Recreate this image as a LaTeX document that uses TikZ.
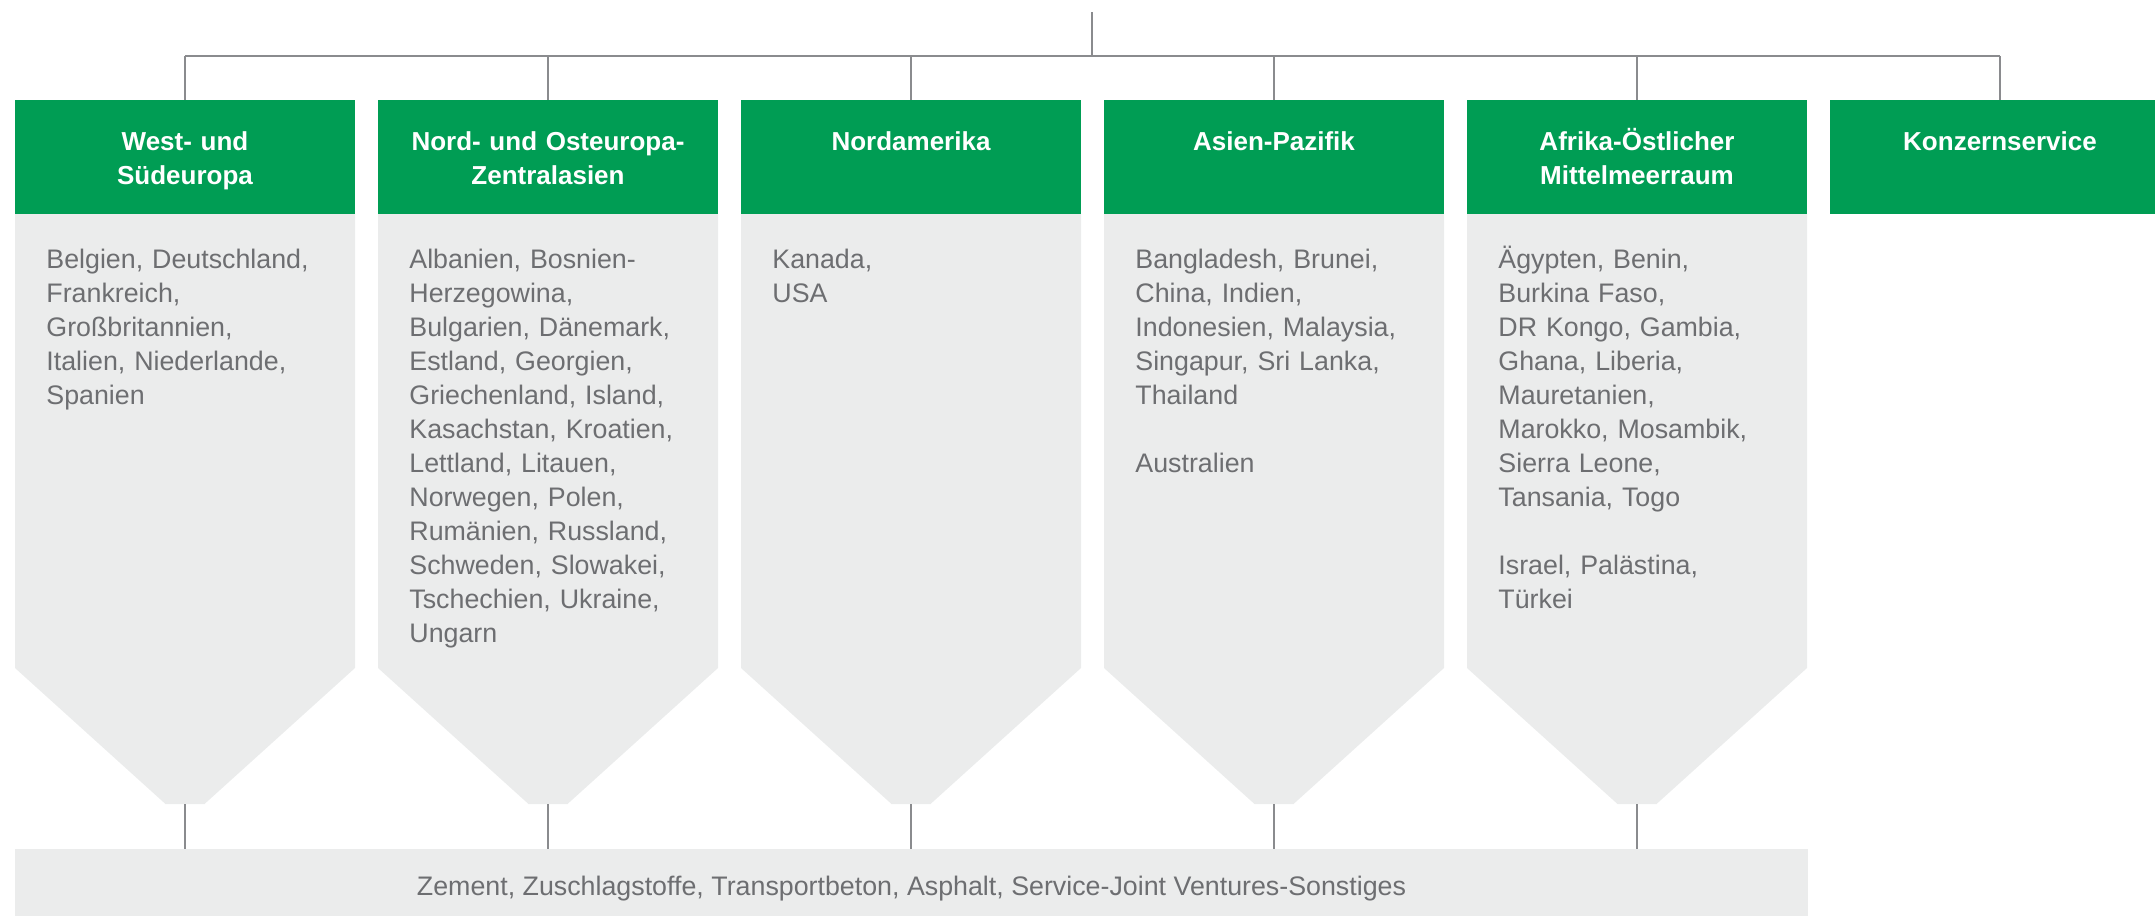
\documentclass[tikz,border=0pt]{standalone}
\usepackage{fontspec}
\setmainfont{Liberation Sans}
\usepackage{xcolor}
\usepackage{tikz}
\usetikzlibrary{positioning}
\definecolor{hcgreen}{RGB}{0,157,84}
\definecolor{hcgrey}{RGB}{235,236,236}
\definecolor{hctext}{RGB}{109,110,113}
\definecolor{hcline}{RGB}{138,139,142}

\begin{document}
\begin{tikzpicture}[
    x=0.5pt, y=-0.5pt,
    node distance=11.5pt,
    region/.style={fill=hcgreen, text=white, font=\fontsize{13pt}{17pt}\selectfont\bfseries,
        minimum width=170pt, text width=170pt, align=center, inner sep=0pt, outer sep=0pt,
        text height=25pt, text depth=32pt},
    countries/.style={text=hctext, font=\fontsize{13.4pt}{17pt}\selectfont,
        text width=150pt, align=left, inner sep=0pt, anchor=base west},
    funnel/.style={fill=hcgrey},
    bar/.style={fill=hcgrey, text=hctext, font=\fontsize{13.4pt}{17pt}\selectfont,
        minimum width=896.5pt, inner sep=0pt, outer sep=0pt, text height=23pt, text depth=10.5pt, anchor=north},
    conn/.style={draw=hcline, line width=0.75pt}
]
    \useasboundingbox (0,0) rectangle (2155,916);

    \node[region, anchor=north] (west) at (185,100) {West- und\\Südeuropa};
    \node[region, right=of west] (nordost) {Nord- und Osteuropa-\\Zentralasien};
    \node[region, right=of nordost] (namerika) {Nordamerika};
    \node[region, right=of namerika] (asien) {Asien-Pazifik};
    \node[region, right=of asien] (afrika) {Afrika-Östlicher\\Mittelmeerraum};
    \node[region, right=of afrika] (konzern) {Konzernservice};

    \node[bar] (bar) at (911.5,849) {Zement, Zuschlagstoffe, Transportbeton, Asphalt, Service-Joint Ventures-Sonstiges};

    \foreach \n in {west,nordost,namerika,asien,afrika} {
        \fill[funnel] (\n.south west) -- (\n.south east) -- ++(0,454) -- ++(-150.5,136)
            -- ++(-39,0) -- ++(-150.5,-136) -- cycle;
        \path (\n.south) ++(0,590) coordinate (\n-tip);
        \draw[conn] (\n-tip) -- (\n-tip |- bar.north);
    }

    \node[countries] (west-list) at ([xshift=15.5pt,yshift=-27pt]west.south west)
        {Belgien, Deutschland,\\Frankreich,\\Großbritannien,\\Italien, Niederlande,\\Spanien};
    \node[countries] (nordost-list) at ([xshift=15.5pt,yshift=-27pt]nordost.south west)
        {Albanien, Bosnien-\\Herzegowina,\\Bulgarien, Dänemark,\\Estland, Georgien,\\Griechenland, Island,\\Kasachstan, Kroatien,\\Lettland, Litauen,\\Norwegen, Polen,\\Rumänien, Russland,\\Schweden, Slowakei,\\Tschechien, Ukraine,\\Ungarn};
    \node[countries] (namerika-list) at ([xshift=15.5pt,yshift=-27pt]namerika.south west)
        {Kanada,\\USA};
    \node[countries] (asien-list) at ([xshift=15.5pt,yshift=-27pt]asien.south west)
        {Bangladesh, Brunei,\\China, Indien,\\Indonesien, Malaysia,\\Singapur, Sri Lanka,\\Thailand\\[17pt]Australien};
    \node[countries] (afrika-list) at ([xshift=15.5pt,yshift=-27pt]afrika.south west)
        {Ägypten, Benin,\\Burkina Faso,\\DR Kongo, Gambia,\\Ghana, Liberia,\\Mauretanien,\\Marokko, Mosambik,\\Sierra Leone,\\Tansania, Togo\\[17pt]Israel, Palästina,\\Türkei};

    \coordinate (root) at (1092,12);
    \path (west.north) ++(0,-44) coordinate (busL);
    \path (konzern.north) ++(0,-44) coordinate (busR);
    \draw[conn] (busL) -- (busR);
    \draw[conn] (root) -- (root |- busL);
    \foreach \n in {west,nordost,namerika,asien,afrika,konzern}
        \draw[conn] (\n.north) -- (\n.north |- busL);
\end{tikzpicture}
\end{document}
